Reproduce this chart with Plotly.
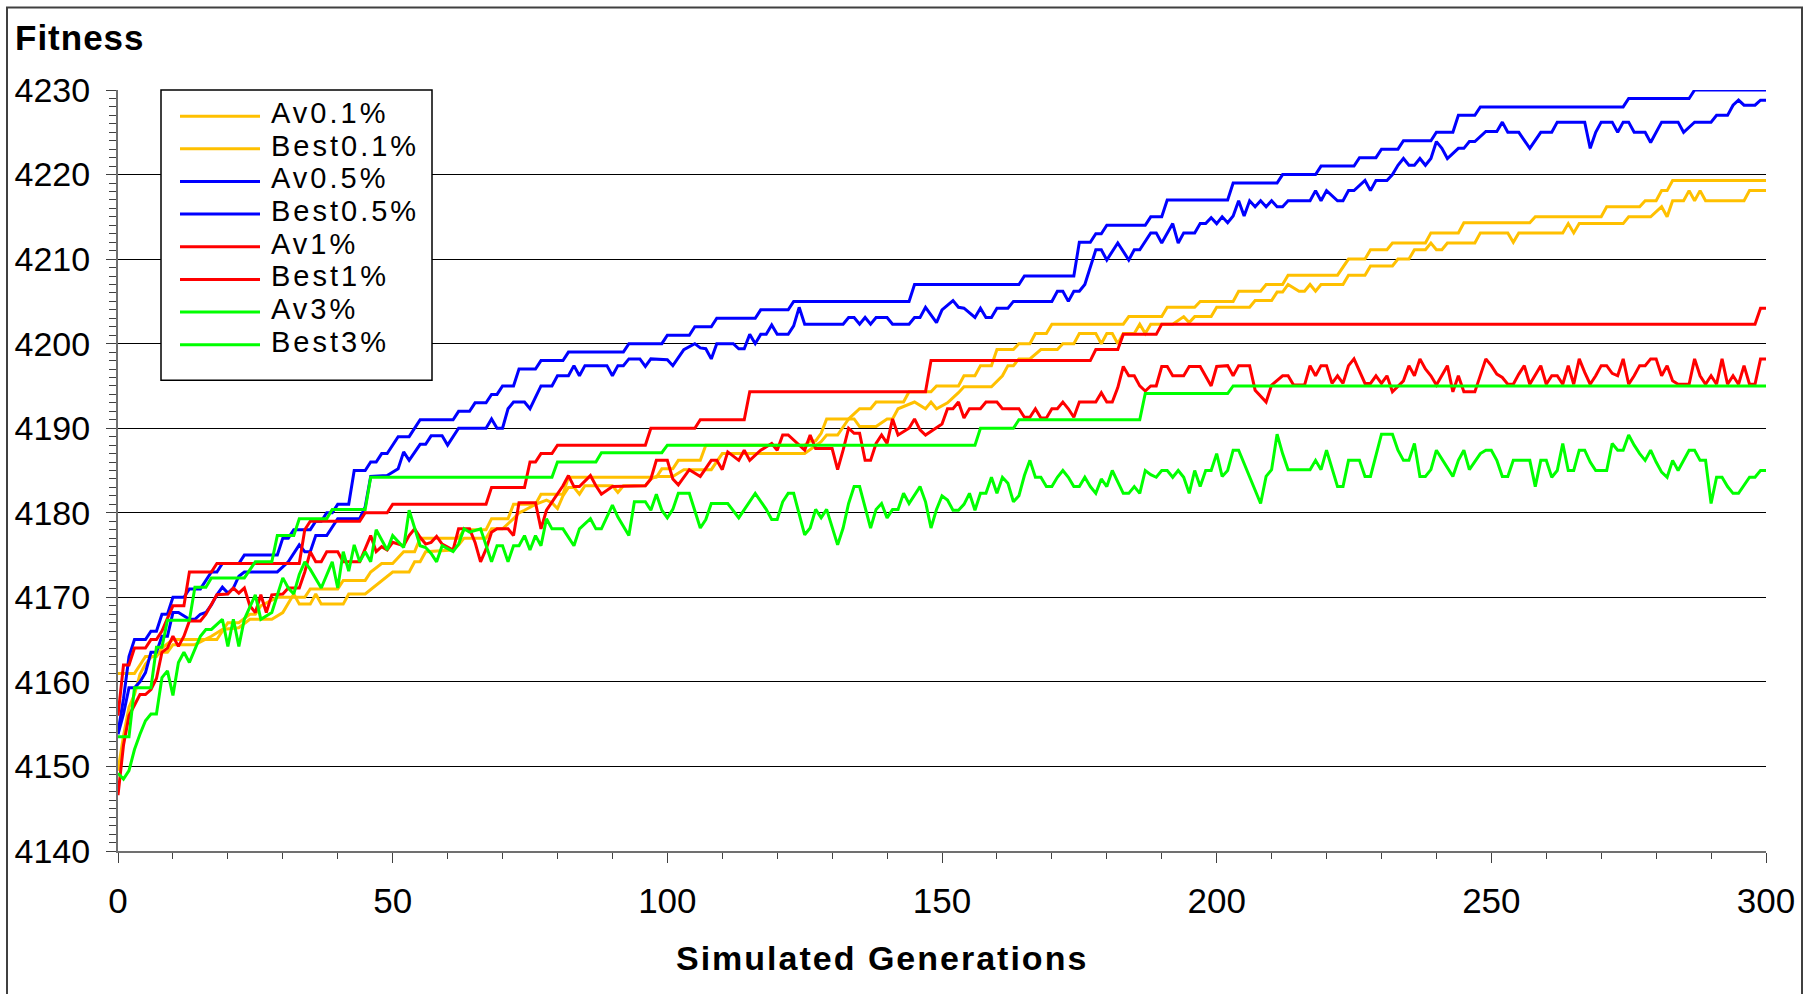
import plotly.graph_objects as go

# ---------------- data: (generation, fitness) vertices ----------------
av01 = [(0,4149.5),(1,4153.6),(2,4157),(3,4158.5),(4,4160.9),(5,4162.1),(6,4162.9),(8,4163.5),(9,4163.5),(10,4164.4),(14,4164.4),(17,4165.4),(19,4166.2),(22,4166.4),(24,4167.4),(28,4167.4),(30,4168.2),(32,4170.4),(33,4169.2),(35,4169.2),(36,4170.4),(37,4169.2),(41,4169.2),(42,4170.4),(45,4170.4),(47,4171.4),(48,4172),(49,4172.4),(50,4173),(53,4173),(54,4174.2),(55,4174.2),(56,4175.4),(61,4175.6),(62,4176.2),(63,4177),(67,4177),(68,4178.1),(70,4178.1),(72,4179.3),(73,4180),(74,4180.3),(76,4181),(78,4181.5),(79,4181.2),(80,4180.5),(81,4182),(82,4183),(83,4183),(84,4182.2),(85,4183.2),(90,4183.2),(91,4182.4),(92,4183.2),(96,4183.2),(97,4184),(98,4184.3),(101,4184.3),(103,4185.1),(108,4185.1),(110,4187),(125,4187),(128,4188.4),(129,4189.2),(131,4189.2),(133,4191.1),(134,4191.1),(135,4190.2),(138,4190.2),(140,4191.1),(141,4191.1),(142,4192.3),(145,4193.1),(147,4192.3),(148,4193.1),(149,4192.3),(151,4193),(153,4194.2),(154,4194.9),(159,4194.9),(161,4196.2),(162,4197.4),(163,4197.4),(164,4198.2),(166,4198.2),(168,4199.3),(171,4199.3),(172,4200),(174,4200),(175,4201.2),(178,4201.2),(179,4200),(180,4201.2),(181,4201.2),(182,4200),(183,4201.2),(185,4201.2),(186,4202.3),(187,4201.2),(188,4202.3),(192,4202.3),(194,4203.2),(195,4202.5),(196,4203.2),(199,4203.2),(200,4204.3),(206,4204.3),(207,4205.1),(210,4205.1),(211,4206.1),(212,4206.1),(213,4207),(215,4206.2),(216,4206.2),(217,4207),(218,4206.2),(219,4207),(223,4207),(224,4208.1),(227,4208.1),(228,4209.2),(232,4209.2),(233,4210),(235,4210),(236,4211.1),(238,4211.1),(239,4211.9),(240,4211.1),(241,4211.1),(242,4211.9),(247,4211.9),(248,4213.1),(253,4213.1),(254,4212),(255,4213.1),(263,4213.1),(264,4214.2),(265,4213.1),(266,4214.2),(274,4214.2),(275,4215),(279,4215),(281,4216.2),(282,4215),(283,4216.9),(285,4216.9),(286,4218.1),(287,4216.9),(288,4218.1),(289,4216.9),(296,4216.9),(297,4218.1),(300,4218.1)]

best01 = [(0,4161),(3,4161),(4,4162),(5,4163),(7,4163),(8,4164),(10,4165),(18,4165),(20,4167),(22,4167),(24,4168),(25,4168),(26,4169),(29,4170),(34,4170),(35,4171),(40,4171),(41,4172),(45,4172),(46,4173),(48,4174),(50,4174),(52,4175.4),(54,4175.4),(55,4177),(62,4177),(63,4178),(67,4178),(68,4179.3),(71,4179.3),(72,4181),(76,4181),(77,4182.2),(81,4182.2),(82,4184.2),(98,4184.2),(99,4185.2),(101,4185.2),(102,4186.2),(106,4186.2),(107,4188),(125,4188),(126,4188.5),(127,4188.5),(128,4189.4),(129,4191.1),(133,4191.1),(135,4192.3),(137,4192.3),(138,4193.1),(143,4193.1),(144,4194.3),(148,4194.3),(149,4195),(153,4195),(154,4196.2),(156,4196.2),(157,4197.4),(159,4197.4),(160,4199.3),(163,4199.3),(164,4200),(166,4200),(167,4201.2),(169,4201.2),(170,4202.3),(183,4202.3),(184,4203.2),(190,4203.2),(191,4204.3),(196,4204.3),(197,4205),(203,4205),(204,4206.2),(208,4206.2),(209,4207),(212,4207),(213,4208.1),(222,4208.1),(224,4210),(227,4210),(228,4211.1),(231,4211.1),(232,4211.9),(238,4211.9),(239,4213.1),(244,4213.1),(245,4214.3),(257,4214.3),(258,4215),(270,4215),(271,4216.2),(277,4216.2),(278,4216.9),(280,4216.9),(281,4218.1),(282,4218.1),(283,4219.3),(300,4219.3)]

av05 = [(0,4153.8),(1,4156.2),(2,4159.3),(3,4159.3),(4,4160),(5,4161.1),(6,4163.5),(7,4163.5),(8,4165.4),(9,4165.4),(10,4168.2),(11,4168.2),(13,4167.4),(14,4167.4),(15,4168),(16,4168.2),(17,4169.1),(18,4170.3),(19,4171.2),(20,4170.5),(21,4171.1),(22,4172.5),(23,4173),(29,4173),(31,4174.2),(32,4175.2),(33,4176.2),(34,4175.4),(35,4175.4),(36,4177.3),(38,4177.3),(40,4179.3),(44,4179.3),(45,4180.7),(46,4184.3),(49,4184.4),(51,4185.2),(52,4187.2),(53,4186.2),(55,4188.1),(56,4188.1),(57,4189.1),(59,4189.1),(60,4188),(62,4190),(67,4190),(68,4191.1),(69,4190),(70,4190),(71,4192.3),(72,4193.1),(74,4193.1),(75,4192.3),(77,4195),(79,4195),(80,4196.2),(82,4196.2),(83,4197.4),(84,4196.2),(85,4197.4),(89,4197.4),(90,4196.2),(91,4197.4),(92,4197.4),(93,4198.2),(95,4198.2),(96,4197.3),(97,4198.2),(100,4198.1),(101,4197.4),(103,4199.3),(105,4200),(106,4199.5),(107,4199.4),(108,4198.2),(109,4200),(112,4200),(113,4199.4),(114,4199.4),(115,4201.1),(116,4200),(117,4201.1),(118,4201.1),(119,4202.2),(120,4201.1),(122,4201.1),(123,4202.1),(124,4204.3),(125,4202.3),(132,4202.3),(133,4203.1),(134,4203.1),(135,4202.3),(136,4203.1),(137,4202.3),(138,4203.1),(140,4203.1),(141,4202.3),(144,4202.3),(145,4203.1),(146,4203.1),(147,4204.3),(149,4202.5),(150,4204),(151,4204.5),(152,4205.1),(153,4204.3),(154,4204.2),(156,4203.1),(157,4204.2),(158,4203.1),(159,4203.1),(160,4204.2),(162,4204.2),(163,4205),(170,4205),(171,4206.2),(172,4206.2),(173,4205),(174,4206.2),(175,4206.2),(176,4207),(178,4211.1),(179,4211.1),(180,4209.9),(182,4211.9),(184,4209.9),(185,4211.1),(186,4211.1),(187,4212.1),(188,4213.1),(189,4213.1),(190,4211.9),(192,4214.2),(193,4211.9),(194,4213.1),(196,4213.1),(197,4214.2),(198,4214.2),(199,4214.9),(200,4214.2),(201,4215),(202,4214.3),(203,4215.1),(204,4216.9),(205,4215.1),(206,4216.9),(207,4216.2),(208,4216.9),(209,4216.2),(210,4216.9),(211,4216.2),(212,4216.2),(213,4216.9),(217,4216.9),(218,4218.1),(219,4216.9),(220,4218.1),(222,4216.9),(223,4216.9),(224,4218.1),(225,4218.1),(227,4219.3),(228,4218.1),(229,4219.3),(231,4219.3),(232,4220),(233,4221.1),(234,4221.9),(235,4221.1),(236,4221.1),(237,4221.9),(238,4221.1),(239,4221.9),(240,4223.9),(241,4223.1),(242,4221.9),(244,4223.1),(245,4223.1),(246,4223.9),(247,4223.9),(249,4225.1),(251,4225.1),(252,4226.2),(253,4225),(255,4225),(256,4224),(257,4223.1),(259,4225),(261,4225),(262,4226.2),(267,4226.2),(268,4223.1),(269,4225),(270,4226.2),(272,4226.2),(273,4225),(274,4226.2),(275,4226.2),(276,4225),(278,4225),(279,4223.8),(281,4226.2),(284,4226.2),(285,4225),(287,4226.2),(290,4226.2),(291,4227),(293,4227),(294,4228.2),(295,4228.8),(296,4228.2),(298,4228.2),(299,4228.8),(300,4228.8)]

best05 = [(0,4154),(1,4158),(2,4163),(3,4165),(5,4165),(6,4166),(7,4166),(8,4168),(9,4168),(10,4170),(12,4170),(13,4171),(15,4171),(16,4172),(17,4173),(18,4173),(19,4174),(22,4174),(23,4175),(29,4175),(30,4177),(31,4177),(32,4178),(35,4178),(36,4179),(37,4179),(38,4180),(39,4180),(40,4181),(42,4181),(43,4185),(45,4185),(46,4186),(47,4186),(48,4187),(49,4187),(50,4188),(51,4189),(53,4189),(54,4190),(55,4191),(61,4191),(62,4192),(64,4192),(65,4193),(67,4193),(68,4194),(69,4194),(70,4195),(72,4195),(73,4197),(76,4197),(77,4198),(81,4198),(82,4199),(92,4199),(93,4200),(99,4200),(100,4201),(104,4201),(105,4202),(108,4202),(109,4203),(116,4203),(117,4204),(122,4204),(123,4205),(144,4205),(145,4207),(164,4207),(165,4208),(174,4208),(175,4212),(177,4212),(178,4213),(179,4213),(180,4214),(187,4214),(188,4215),(190,4215),(191,4217),(202,4217),(203,4219),(211,4219),(212,4220),(218,4220),(219,4221),(225,4221),(226,4222),(229,4222),(230,4223),(233,4223),(234,4224),(239,4224),(240,4225),(243,4225),(244,4227),(247,4227),(248,4228),(274,4228),(275,4229),(286,4229),(287,4230),(300,4230)]

av1 = [(0,4146.6),(1,4152.5),(2,4156),(3,4157.3),(4,4158.5),(5,4158.5),(6,4159.1),(7,4160.4),(8,4163.5),(9,4164),(10,4165.4),(11,4164.2),(12,4165.4),(13,4167.2),(15,4167.2),(16,4168),(18,4170.3),(20,4170.4),(21,4171.1),(22,4170.5),(23,4171.1),(24,4169),(25,4168.2),(26,4170.3),(27,4168.2),(28,4170.3),(30,4170.4),(31,4171.1),(33,4171.1),(34,4173),(35,4175.4),(36,4174.2),(37,4174.2),(38,4175.4),(40,4175.4),(41,4174.2),(44,4174.2),(46,4177.3),(47,4175.4),(48,4176),(49,4175.6),(50,4176.5),(52,4176.1),(53,4177.3),(54,4178.1),(55,4177.1),(56,4176.3),(57,4176.5),(58,4177.2),(59,4176.3),(61,4175.6),(62,4178.1),(64,4178.1),(65,4176.5),(66,4174.2),(67,4175.7),(68,4177.7),(69,4178.1),(71,4178.1),(72,4177.3),(73,4181.2),(76,4181.2),(77,4178.1),(78,4180.3),(79,4181.3),(80,4182.2),(81,4183.2),(82,4184.4),(83,4183.1),(84,4183.1),(86,4184.4),(87,4183.2),(88,4182.2),(90,4183.1),(96,4183.2),(97,4184),(98,4186.2),(100,4186.2),(101,4184),(102,4183.3),(104,4185.1),(106,4184.3),(108,4186.2),(109,4186.2),(110,4185.1),(111,4187.2),(113,4186.2),(114,4187.4),(115,4186.2),(117,4187.4),(119,4188.2),(120,4187.4),(121,4189.2),(122,4189.2),(124,4188),(125,4187.4),(126,4189.2),(127,4187.6),(130,4187.6),(131,4185.1),(132,4187.4),(133,4190),(134,4189.4),(135,4189.4),(136,4186.2),(137,4186.2),(138,4188.2),(139,4189.2),(140,4188.2),(141,4191.1),(142,4189.2),(144,4190),(145,4191.1),(146,4189.8),(147,4189.2),(149,4190),(150,4190.5),(151,4192.3),(152,4192.3),(153,4193.1),(154,4191.2),(155,4192.3),(157,4192.3),(158,4193.1),(160,4193.1),(161,4192.3),(164,4192.3),(165,4191.3),(166,4191.3),(167,4192.3),(168,4191.2),(169,4191.2),(170,4192.3),(171,4192.3),(172,4193.1),(173,4192.3),(174,4191.3),(175,4193.1),(178,4193.1),(179,4194.2),(180,4193.1),(181,4193.1),(182,4194.8),(183,4197.3),(184,4196.2),(185,4196.2),(186,4195),(187,4194.4),(188,4195),(189,4195),(190,4197.3),(191,4197.3),(192,4196.2),(194,4196.2),(195,4197.3),(197,4197.3),(198,4196.2),(199,4195),(200,4197.3),(202,4197.4),(203,4196.2),(204,4197.4),(206,4197.4),(207,4194.5),(209,4193.1),(210,4195.1),(212,4196.2),(213,4196.2),(214,4195.1),(216,4195.1),(217,4197.4),(218,4196.2),(219,4197.4),(220,4197.4),(221,4195.3),(222,4196.2),(223,4195.3),(224,4197.4),(225,4198.2),(227,4195.3),(228,4195.3),(229,4196.2),(230,4195.3),(231,4196.2),(232,4194.3),(234,4195.6),(235,4197.4),(236,4196.2),(237,4198.2),(238,4197),(239,4196.2),(240,4195.1),(242,4197.4),(243,4194.3),(244,4196.2),(245,4194.3),(247,4194.3),(249,4198.2),(250,4197.4),(251,4196.4),(252,4196),(253,4195.2),(254,4195.2),(255,4196.4),(256,4197.4),(257,4195.2),(259,4197.4),(260,4195.2),(261,4196.2),(262,4196.2),(263,4195.2),(264,4197.4),(265,4195.2),(266,4198.2),(267,4196.6),(268,4195.2),(269,4196.2),(270,4197.4),(271,4197.4),(272,4196.5),(273,4196.2),(274,4198.2),(275,4195.2),(276,4196.2),(277,4197.4),(278,4197.4),(279,4198.2),(280,4198.2),(281,4196.2),(282,4197.4),(283,4195.6),(284,4195.2),(286,4195.2),(287,4198.2),(288,4196.2),(289,4195.2),(290,4196.2),(291,4195.2),(292,4198.2),(293,4195.2),(294,4196.2),(295,4195.2),(296,4197.4),(297,4195.2),(298,4195.2),(299,4198.2),(300,4198.2)]

best1 = [(0,4156),(1,4162),(2,4162),(3,4164),(5,4164),(6,4165),(7,4165),(8,4166),(9,4167.5),(10,4169),(12,4169),(13,4173),(17,4173),(18,4174),(33,4174),(34,4178),(35,4179),(44,4179),(45,4180),(49,4180),(50,4181),(67,4181),(68,4183),(74,4183),(75,4186),(76,4186),(77,4187),(79,4187),(80,4188),(96,4188),(97,4190),(105,4190),(106,4191),(114,4191),(115,4194.3),(147,4194.3),(148,4198),(177,4198),(178,4199.3),(182,4199.3),(183,4201.1),(189,4201.1),(190,4202.3),(298,4202.3),(299,4204.2),(300,4204.2)]

av3 = [(0,4149.2),(1,4148.5),(2,4149.5),(3,4152),(4,4153.8),(5,4155.4),(6,4156.2),(7,4156.2),(8,4160.5),(9,4161.3),(10,4158.4),(11,4162.3),(12,4163.5),(13,4162.3),(15,4165.4),(16,4166.2),(17,4166.2),(19,4167.4),(20,4164.2),(21,4167.4),(22,4164.2),(23,4167.4),(25,4170.3),(26,4167.4),(28,4168.2),(30,4172.3),(31,4171.1),(32,4170.4),(33,4172.7),(34,4174.2),(35,4173.3),(37,4171.1),(39,4174.2),(40,4171.1),(41,4175.4),(42,4173.1),(43,4176.2),(44,4174.2),(45,4175.4),(46,4174.2),(47,4178),(49,4175.6),(50,4177.3),(52,4175.9),(53,4180.3),(55,4176.1),(56,4175.9),(57,4175.2),(58,4174.2),(59,4176.1),(61,4175.4),(62,4176.3),(63,4178.1),(64,4177.7),(66,4178.1),(68,4174.2),(69,4176.1),(70,4176.1),(71,4174.2),(72,4176.1),(73,4176.1),(74,4177.3),(75,4175.6),(76,4177.3),(77,4176.1),(78,4179.3),(79,4178.1),(81,4178.1),(83,4176.1),(84,4178.1),(86,4179.3),(87,4178.1),(88,4178.1),(90,4180.9),(91,4179.5),(93,4177.3),(94,4181.3),(96,4181.3),(97,4180.3),(98,4182.2),(99,4180.3),(100,4179.4),(101,4180.4),(102,4182.3),(104,4182.3),(106,4178.2),(107,4179.2),(108,4181.1),(111,4181.1),(113,4179.4),(116,4182.3),(118,4180.4),(119,4179.2),(120,4179.2),(121,4181.3),(122,4182.3),(123,4182.3),(125,4177.4),(126,4178.2),(127,4180.4),(128,4179.4),(129,4180.4),(131,4176.2),(132,4178.2),(133,4181.1),(134,4183.1),(135,4183.1),(137,4178.2),(138,4180.4),(139,4181.1),(140,4179.4),(141,4180.4),(142,4180.4),(143,4182.3),(144,4181.1),(146,4183.1),(147,4181.3),(148,4178.2),(149,4180.4),(150,4182),(151,4181.5),(152,4180.3),(153,4180.3),(154,4181),(155,4182.3),(156,4180.3),(157,4182.3),(158,4182.3),(159,4184.2),(160,4182.3),(161,4184.2),(162,4183.5),(163,4181.3),(164,4182),(165,4184.4),(166,4186.2),(167,4184.2),(168,4184.2),(169,4183.1),(170,4183.1),(171,4184.2),(172,4185),(173,4184.2),(174,4183.1),(175,4183.1),(176,4184.2),(177,4183.1),(178,4182.3),(179,4184),(180,4183.1),(181,4185),(183,4182.3),(184,4182.3),(185,4183.1),(186,4182.3),(187,4185),(188,4184.5),(189,4184.2),(190,4185),(191,4185),(192,4184.2),(193,4185),(194,4184.2),(195,4182.3),(196,4185),(197,4183.1),(198,4185),(199,4185),(200,4187),(201,4184.3),(202,4185),(203,4187.4),(204,4187.4),(206,4184.3),(208,4181.1),(209,4184.3),(210,4185.1),(211,4189.3),(212,4187),(213,4185.1),(217,4185.1),(218,4186.2),(219,4185.1),(220,4187.4),(222,4183.1),(223,4183.1),(224,4186.2),(226,4186.2),(227,4184.3),(228,4184.3),(230,4189.3),(232,4189.3),(233,4187.4),(234,4186.2),(235,4186.2),(236,4188.2),(237,4184.3),(238,4184.3),(239,4185.1),(240,4187.4),(243,4184.3),(244,4186.2),(245,4187.4),(246,4185.1),(248,4187),(249,4187.4),(250,4187.4),(251,4186.2),(252,4184.3),(253,4184.3),(254,4186.2),(257,4186.2),(258,4183.1),(259,4186.2),(260,4186.2),(261,4184.2),(262,4185),(263,4188.2),(264,4185),(265,4185),(266,4187.4),(267,4187.4),(268,4186),(269,4185),(271,4185),(272,4188.2),(273,4187.4),(274,4187.4),(275,4189.2),(276,4188),(277,4187),(278,4186.2),(279,4187.4),(280,4186),(281,4184.8),(282,4184.2),(283,4186.2),(284,4185),(285,4186.2),(286,4187.4),(287,4187.4),(288,4186.2),(289,4186.2),(290,4181.1),(291,4184.2),(292,4184.2),(293,4183.1),(294,4182.3),(295,4182.3),(296,4183.3),(297,4184.2),(298,4184.2),(299,4185),(300,4185)]

best3 = [(0,4153.5),(2,4153.5),(3,4159.3),(6,4159.3),(7,4164.1),(8,4164.1),(9,4167.3),(13,4167.3),(14,4171.2),(16,4171.2),(17,4172.3),(23,4172.3),(25,4174.2),(28,4174.2),(29,4177.3),(32,4177.3),(33,4179.3),(38,4179.3),(39,4180.4),(45,4180.4),(46,4184.2),(79,4184.2),(80,4186),(87,4186),(88,4187.1),(99,4187.1),(100,4188),(156,4188),(157,4190),(163,4190),(164,4191),(186,4191),(187,4194.1),(202,4194.1),(203,4195),(300,4195)]

series_names = ["Av0.1%", "Best0.1%", "Av0.5%", "Best0.5%", "Av1%", "Best1%", "Av3%", "Best3%"]
series_data = [av01, best01, av05, best05, av1, best1, av3, best3]
series_colors = ["#FFC000", "#FFC000", "#0000FF", "#0000FF", "#FF0000", "#FF0000", "#00FF00", "#00FF00"]

x_ticks = [0, 50, 100, 150, 200, 250, 300]
y_ticks = [4140, 4150, 4160, 4170, 4180, 4190, 4200, 4210, 4220, 4230]

# ---------------- layout geometry ----------------
W, H = 1813, 994
ML, MR, MT, MB = 118, 47, 89.5, 143
PW, PH = W - ML - MR, H - MT - MB
FONT = "Liberation Sans, Arial, sans-serif"


def px(xp):
    return (xp - ML) / PW


def py(yp):
    return 1 - (yp - MT) / PH


fig = go.Figure()
for name, pts, col in zip(series_names, series_data, series_colors):
    fig.add_trace(go.Scatter(
        x=[p[0] for p in pts], y=[p[1] for p in pts], name=name,
        mode="lines", line=dict(color=col, width=3), showlegend=False,
    ))

shapes = []
annotations = []
# outer frame
shapes.append(dict(type="rect", xref="paper", yref="paper",
                   x0=px(7), x1=px(1802), y0=py(1000), y1=py(7),
                   line=dict(color="#404040", width=2), fillcolor="rgba(0,0,0,0)", layer="above"))
# legend box
shapes.append(dict(type="rect", xref="paper", yref="paper",
                   x0=px(161), x1=px(432), y0=py(380), y1=py(89.5),
                   line=dict(color="black", width=1.5), fillcolor="white", layer="above"))
for i, (name, col) in enumerate(zip(series_names, series_colors)):
    yy = 115.7 + 32.66 * i
    shapes.append(dict(type="line", xref="paper", yref="paper",
                       x0=px(180), x1=px(260), y0=py(yy), y1=py(yy),
                       line=dict(color=col, width=3), layer="above"))
    annotations.append(dict(text="<span style='letter-spacing:3px'>" + name + "</span>",
                            xref="paper", yref="paper", x=px(269), y=py(yy - 3),
                            xanchor="left", yanchor="middle", showarrow=False,
                            font=dict(family=FONT, size=29, color="black")))

annotations.append(dict(text="<b><span style='letter-spacing:1px'>Fitness</span></b>",
                        xref="paper", yref="paper", x=px(13), y=py(37),
                        xanchor="left", yanchor="middle", showarrow=False,
                        font=dict(family=FONT, size=35, color="black")))
annotations.append(dict(text="<b><span style='letter-spacing:2px'>Simulated Generations</span></b>",
                        xref="paper", yref="paper",
                        x=px(882), y=py(958), xanchor="center", yanchor="middle", showarrow=False,
                        font=dict(family=FONT, size=34, color="black")))

fig.update_layout(
    width=W, height=H,
    margin=dict(l=ML, r=MR, t=MT, b=MB, pad=0),
    paper_bgcolor="white", plot_bgcolor="white",
    shapes=shapes, annotations=annotations,
    showlegend=False,
    xaxis=dict(
        range=[0, 300], tickvals=x_ticks, ticktext=[str(v) for v in x_ticks],
        ticks="outside", ticklen=10, tickwidth=1, tickcolor="#404040",
        showline=True, linecolor="#707070", linewidth=2,
        showgrid=False, zeroline=False,
        tickfont=dict(family=FONT, size=35, color="black"),
        ticklabelstandoff=8,
        minor=dict(dtick=10, ticks="outside", ticklen=6, tickwidth=1, tickcolor="#404040", showgrid=False),
    ),
    yaxis=dict(
        range=[4140, 4230], tickvals=y_ticks, ticktext=[str(v) for v in y_ticks],
        ticks="outside", ticklen=10, tickwidth=1, tickcolor="#404040",
        showline=True, linecolor="#707070", linewidth=2,
        showgrid=True, gridcolor="black", gridwidth=1, zeroline=False,
        tickfont=dict(family=FONT, size=34, color="black"),
        ticklabelstandoff=9,
        minor=dict(dtick=1, ticks="outside", ticklen=7, tickwidth=1, tickcolor="#404040", showgrid=False),
    ),
)

fig.write_html("out.html")
